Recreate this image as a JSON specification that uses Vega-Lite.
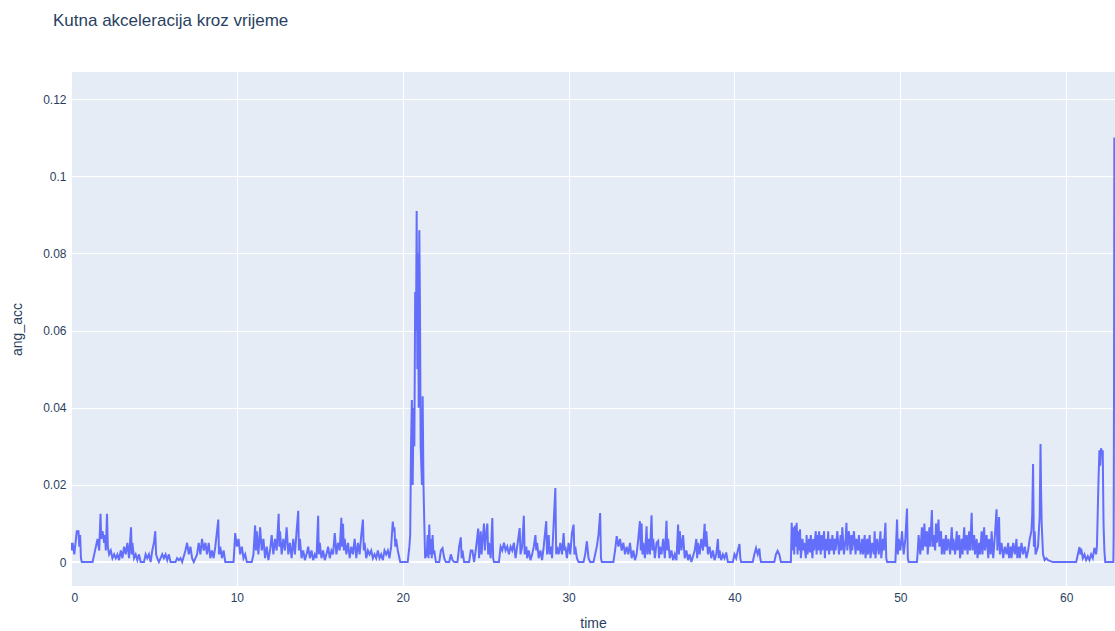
{
  "$schema": "https://vega.github.io/schema/vega-lite/v6.json",
  "width": 1044,
  "height": 514,
  "autosize": {"type": "none"},
  "padding": {"left": 71, "top": 72, "right": 0, "bottom": 45},
  "background": "white",
  "title": {
    "text": "Kutna akceleracija kroz vrijeme",
    "anchor": "start",
    "frame": "group",
    "baseline": "alphabetic",
    "offset": 29,
    "dx": -18,
    "font": "Liberation Sans",
    "fontSize": 17,
    "fontWeight": "normal",
    "color": "#2a3f5f"
  },
  "config": {
    "view": {"fill": "#E5ECF6", "stroke": null},
    "axis": {
      "domain": false,
      "ticks": false,
      "grid": true,
      "gridColor": "white",
      "gridWidth": 1,
      "labelColor": "#2a3f5f",
      "labelFont": "Liberation Sans",
      "labelFontSize": 12,
      "titleColor": "#2a3f5f",
      "titleFont": "Liberation Sans",
      "titleFontSize": 14,
      "titleFontWeight": "normal"
    }
  },
  "data": {
    "values": [
      {"time": 0, "ang_acc": 0.005}, {"time": 0.05, "ang_acc": 0.003}, {"time": 0.1, "ang_acc": 0.005}, {"time": 0.2, "ang_acc": 0.002},
      {"time": 0.3, "ang_acc": 0.006}, {"time": 0.35, "ang_acc": 0.008}, {"time": 0.45, "ang_acc": 0.008}, {"time": 0.5, "ang_acc": 0.004},
      {"time": 0.55, "ang_acc": 0.007}, {"time": 0.6, "ang_acc": 0.001}, {"time": 0.65, "ang_acc": 0}, {"time": 1.3, "ang_acc": 0},
      {"time": 1.4, "ang_acc": 0.002}, {"time": 1.5, "ang_acc": 0.004}, {"time": 1.6, "ang_acc": 0.006}, {"time": 1.7, "ang_acc": 0.003},
      {"time": 1.78, "ang_acc": 0.0125}, {"time": 1.82, "ang_acc": 0.006}, {"time": 1.9, "ang_acc": 0.008}, {"time": 2.0, "ang_acc": 0.005},
      {"time": 2.05, "ang_acc": 0.007}, {"time": 2.1, "ang_acc": 0.003}, {"time": 2.17, "ang_acc": 0.0125}, {"time": 2.22, "ang_acc": 0.004},
      {"time": 2.3, "ang_acc": 0.002}, {"time": 2.4, "ang_acc": 0.003}, {"time": 2.5, "ang_acc": 0.001}, {"time": 2.6, "ang_acc": 0.002},
      {"time": 2.7, "ang_acc": 0.001}, {"time": 2.8, "ang_acc": 0.002}, {"time": 2.9, "ang_acc": 0.0005}, {"time": 3.0, "ang_acc": 0.003},
      {"time": 3.1, "ang_acc": 0.001}, {"time": 3.2, "ang_acc": 0.004}, {"time": 3.3, "ang_acc": 0.002}, {"time": 3.4, "ang_acc": 0.005},
      {"time": 3.5, "ang_acc": 0.001}, {"time": 3.62, "ang_acc": 0.009}, {"time": 3.66, "ang_acc": 0.002}, {"time": 3.7, "ang_acc": 0.005},
      {"time": 3.8, "ang_acc": 0.001}, {"time": 3.9, "ang_acc": 0.002}, {"time": 4.0, "ang_acc": 0.0005}, {"time": 4.1, "ang_acc": 0.002},
      {"time": 4.2, "ang_acc": 0}, {"time": 4.4, "ang_acc": 0}, {"time": 4.5, "ang_acc": 0.002}, {"time": 4.6, "ang_acc": 0.001},
      {"time": 4.7, "ang_acc": 0.002}, {"time": 4.8, "ang_acc": 0}, {"time": 4.9, "ang_acc": 0.003}, {"time": 5.0, "ang_acc": 0.005},
      {"time": 5.08, "ang_acc": 0.008}, {"time": 5.13, "ang_acc": 0.002}, {"time": 5.2, "ang_acc": 0.001}, {"time": 5.3, "ang_acc": 0},
      {"time": 5.5, "ang_acc": 0.002}, {"time": 5.6, "ang_acc": 0.001}, {"time": 5.7, "ang_acc": 0.002}, {"time": 5.8, "ang_acc": 0.0005},
      {"time": 5.9, "ang_acc": 0.002}, {"time": 6.0, "ang_acc": 0}, {"time": 6.3, "ang_acc": 0}, {"time": 6.4, "ang_acc": 0.001},
      {"time": 6.5, "ang_acc": 0.0005}, {"time": 6.6, "ang_acc": 0.001}, {"time": 6.7, "ang_acc": 0}, {"time": 6.9, "ang_acc": 0.003},
      {"time": 7.0, "ang_acc": 0.005}, {"time": 7.1, "ang_acc": 0.002}, {"time": 7.2, "ang_acc": 0.004}, {"time": 7.3, "ang_acc": 0.001},
      {"time": 7.4, "ang_acc": 0}, {"time": 7.6, "ang_acc": 0.002}, {"time": 7.7, "ang_acc": 0.005}, {"time": 7.8, "ang_acc": 0.002},
      {"time": 7.9, "ang_acc": 0.006}, {"time": 8.0, "ang_acc": 0.003}, {"time": 8.1, "ang_acc": 0.005}, {"time": 8.2, "ang_acc": 0.002},
      {"time": 8.3, "ang_acc": 0.005}, {"time": 8.4, "ang_acc": 0.001}, {"time": 8.5, "ang_acc": 0.003}, {"time": 8.6, "ang_acc": 0.001},
      {"time": 8.7, "ang_acc": 0.004}, {"time": 8.88, "ang_acc": 0.011}, {"time": 8.92, "ang_acc": 0.002}, {"time": 9.0, "ang_acc": 0.004},
      {"time": 9.1, "ang_acc": 0.001}, {"time": 9.2, "ang_acc": 0.003}, {"time": 9.3, "ang_acc": 0}, {"time": 9.8, "ang_acc": 0},
      {"time": 9.9, "ang_acc": 0.0075}, {"time": 10.0, "ang_acc": 0.004}, {"time": 10.1, "ang_acc": 0.006}, {"time": 10.2, "ang_acc": 0.002},
      {"time": 10.3, "ang_acc": 0.004}, {"time": 10.4, "ang_acc": 0.001}, {"time": 10.5, "ang_acc": 0.002}, {"time": 10.6, "ang_acc": 0},
      {"time": 10.9, "ang_acc": 0}, {"time": 11.0, "ang_acc": 0.002}, {"time": 11.1, "ang_acc": 0.0095}, {"time": 11.15, "ang_acc": 0.003},
      {"time": 11.2, "ang_acc": 0.008}, {"time": 11.3, "ang_acc": 0.002}, {"time": 11.4, "ang_acc": 0.009}, {"time": 11.5, "ang_acc": 0.003},
      {"time": 11.6, "ang_acc": 0.006}, {"time": 11.7, "ang_acc": 0.001}, {"time": 11.8, "ang_acc": 0.004}, {"time": 11.9, "ang_acc": 0.0005},
      {"time": 12.0, "ang_acc": 0.003}, {"time": 12.1, "ang_acc": 0.007}, {"time": 12.2, "ang_acc": 0.002}, {"time": 12.3, "ang_acc": 0.006},
      {"time": 12.4, "ang_acc": 0.003}, {"time": 12.52, "ang_acc": 0.0125}, {"time": 12.56, "ang_acc": 0.004}, {"time": 12.6, "ang_acc": 0.008},
      {"time": 12.7, "ang_acc": 0.002}, {"time": 12.8, "ang_acc": 0.006}, {"time": 12.9, "ang_acc": 0.003}, {"time": 13.0, "ang_acc": 0.009},
      {"time": 13.1, "ang_acc": 0.002}, {"time": 13.2, "ang_acc": 0.005}, {"time": 13.3, "ang_acc": 0.001}, {"time": 13.4, "ang_acc": 0.006},
      {"time": 13.5, "ang_acc": 0.002}, {"time": 13.6, "ang_acc": 0.008}, {"time": 13.7, "ang_acc": 0.0133}, {"time": 13.74, "ang_acc": 0.003},
      {"time": 13.8, "ang_acc": 0.006}, {"time": 13.9, "ang_acc": 0.001}, {"time": 14.0, "ang_acc": 0.003}, {"time": 14.1, "ang_acc": 0.0005},
      {"time": 14.2, "ang_acc": 0.002}, {"time": 14.3, "ang_acc": 0.004}, {"time": 14.4, "ang_acc": 0.001}, {"time": 14.5, "ang_acc": 0.003},
      {"time": 14.6, "ang_acc": 0.0005}, {"time": 14.7, "ang_acc": 0.002}, {"time": 14.8, "ang_acc": 0.001}, {"time": 14.9, "ang_acc": 0.012},
      {"time": 14.94, "ang_acc": 0.002}, {"time": 15.0, "ang_acc": 0.005}, {"time": 15.1, "ang_acc": 0.001}, {"time": 15.2, "ang_acc": 0.003},
      {"time": 15.3, "ang_acc": 0.0005}, {"time": 15.4, "ang_acc": 0.002}, {"time": 15.5, "ang_acc": 0.004}, {"time": 15.6, "ang_acc": 0.001},
      {"time": 15.7, "ang_acc": 0.003}, {"time": 15.8, "ang_acc": 0.002}, {"time": 15.9, "ang_acc": 0.0075}, {"time": 16.0, "ang_acc": 0.002},
      {"time": 16.1, "ang_acc": 0.005}, {"time": 16.2, "ang_acc": 0.003}, {"time": 16.3, "ang_acc": 0.0115}, {"time": 16.34, "ang_acc": 0.004},
      {"time": 16.4, "ang_acc": 0.0099}, {"time": 16.45, "ang_acc": 0.003}, {"time": 16.5, "ang_acc": 0.006}, {"time": 16.6, "ang_acc": 0.002},
      {"time": 16.7, "ang_acc": 0.005}, {"time": 16.8, "ang_acc": 0.001}, {"time": 16.9, "ang_acc": 0.004}, {"time": 17.0, "ang_acc": 0.002},
      {"time": 17.1, "ang_acc": 0.006}, {"time": 17.2, "ang_acc": 0.001}, {"time": 17.3, "ang_acc": 0.005}, {"time": 17.4, "ang_acc": 0.002},
      {"time": 17.5, "ang_acc": 0.007}, {"time": 17.6, "ang_acc": 0.011}, {"time": 17.65, "ang_acc": 0.003}, {"time": 17.7, "ang_acc": 0.005},
      {"time": 17.8, "ang_acc": 0.001}, {"time": 17.9, "ang_acc": 0.003}, {"time": 18.0, "ang_acc": 0.002}, {"time": 18.1, "ang_acc": 0.003},
      {"time": 18.2, "ang_acc": 0.001}, {"time": 18.3, "ang_acc": 0.002}, {"time": 18.4, "ang_acc": 0.001}, {"time": 18.5, "ang_acc": 0.003},
      {"time": 18.6, "ang_acc": 0.001}, {"time": 18.7, "ang_acc": 0.002}, {"time": 18.8, "ang_acc": 0.0005}, {"time": 18.9, "ang_acc": 0.003},
      {"time": 19.0, "ang_acc": 0.002}, {"time": 19.1, "ang_acc": 0.003}, {"time": 19.2, "ang_acc": 0.001}, {"time": 19.3, "ang_acc": 0.004},
      {"time": 19.4, "ang_acc": 0.0105}, {"time": 19.45, "ang_acc": 0.008}, {"time": 19.5, "ang_acc": 0.009}, {"time": 19.55, "ang_acc": 0.004},
      {"time": 19.6, "ang_acc": 0.006}, {"time": 19.7, "ang_acc": 0.003}, {"time": 19.8, "ang_acc": 0.001}, {"time": 19.85, "ang_acc": 0},
      {"time": 20.3, "ang_acc": 0}, {"time": 20.4, "ang_acc": 0.004}, {"time": 20.45, "ang_acc": 0.007}, {"time": 20.5, "ang_acc": 0.03},
      {"time": 20.55, "ang_acc": 0.042}, {"time": 20.6, "ang_acc": 0.02}, {"time": 20.65, "ang_acc": 0.04}, {"time": 20.7, "ang_acc": 0.03},
      {"time": 20.75, "ang_acc": 0.07}, {"time": 20.8, "ang_acc": 0.06}, {"time": 20.84, "ang_acc": 0.091}, {"time": 20.88, "ang_acc": 0.05},
      {"time": 20.92, "ang_acc": 0.08}, {"time": 20.96, "ang_acc": 0.04}, {"time": 21.0, "ang_acc": 0.086}, {"time": 21.04, "ang_acc": 0.065},
      {"time": 21.08, "ang_acc": 0.03}, {"time": 21.12, "ang_acc": 0.025}, {"time": 21.16, "ang_acc": 0.02}, {"time": 21.2, "ang_acc": 0.043},
      {"time": 21.25, "ang_acc": 0.02}, {"time": 21.3, "ang_acc": 0.01}, {"time": 21.35, "ang_acc": 0.001}, {"time": 21.45, "ang_acc": 0.002},
      {"time": 21.5, "ang_acc": 0.007}, {"time": 21.55, "ang_acc": 0.001}, {"time": 21.6, "ang_acc": 0.0097}, {"time": 21.65, "ang_acc": 0.002},
      {"time": 21.7, "ang_acc": 0.006}, {"time": 21.75, "ang_acc": 0.001}, {"time": 21.8, "ang_acc": 0.007}, {"time": 21.85, "ang_acc": 0.002},
      {"time": 21.9, "ang_acc": 0.003}, {"time": 22.0, "ang_acc": 0}, {"time": 22.2, "ang_acc": 0}, {"time": 22.3, "ang_acc": 0.003},
      {"time": 22.4, "ang_acc": 0.0036}, {"time": 22.5, "ang_acc": 0.001}, {"time": 22.6, "ang_acc": 0}, {"time": 22.8, "ang_acc": 0},
      {"time": 22.9, "ang_acc": 0.002}, {"time": 23.0, "ang_acc": 0.0005}, {"time": 23.1, "ang_acc": 0}, {"time": 23.3, "ang_acc": 0},
      {"time": 23.4, "ang_acc": 0.004}, {"time": 23.5, "ang_acc": 0.0064}, {"time": 23.55, "ang_acc": 0.001}, {"time": 23.6, "ang_acc": 0.003},
      {"time": 23.7, "ang_acc": 0}, {"time": 24.0, "ang_acc": 0}, {"time": 24.1, "ang_acc": 0.003}, {"time": 24.2, "ang_acc": 0.003},
      {"time": 24.3, "ang_acc": 0}, {"time": 24.4, "ang_acc": 0.003}, {"time": 24.55, "ang_acc": 0.0087}, {"time": 24.6, "ang_acc": 0.001},
      {"time": 24.7, "ang_acc": 0.008}, {"time": 24.75, "ang_acc": 0.002}, {"time": 24.8, "ang_acc": 0.005}, {"time": 24.9, "ang_acc": 0.01},
      {"time": 24.95, "ang_acc": 0.003}, {"time": 25.0, "ang_acc": 0.006}, {"time": 25.1, "ang_acc": 0.01}, {"time": 25.15, "ang_acc": 0.002},
      {"time": 25.2, "ang_acc": 0.005}, {"time": 25.3, "ang_acc": 0.001}, {"time": 25.4, "ang_acc": 0.0114}, {"time": 25.45, "ang_acc": 0.001},
      {"time": 25.5, "ang_acc": 0}, {"time": 25.8, "ang_acc": 0}, {"time": 25.9, "ang_acc": 0.004}, {"time": 26.0, "ang_acc": 0.003},
      {"time": 26.1, "ang_acc": 0.005}, {"time": 26.2, "ang_acc": 0.003}, {"time": 26.3, "ang_acc": 0.004}, {"time": 26.4, "ang_acc": 0.002},
      {"time": 26.5, "ang_acc": 0.004}, {"time": 26.6, "ang_acc": 0.003}, {"time": 26.7, "ang_acc": 0.005}, {"time": 26.8, "ang_acc": 0.001},
      {"time": 26.9, "ang_acc": 0.004}, {"time": 27.05, "ang_acc": 0.0088}, {"time": 27.1, "ang_acc": 0.002}, {"time": 27.2, "ang_acc": 0.004},
      {"time": 27.3, "ang_acc": 0.012}, {"time": 27.35, "ang_acc": 0.002}, {"time": 27.45, "ang_acc": 0.004}, {"time": 27.5, "ang_acc": 0.001},
      {"time": 27.6, "ang_acc": 0.003}, {"time": 27.7, "ang_acc": 0.0005}, {"time": 27.8, "ang_acc": 0.002}, {"time": 27.9, "ang_acc": 0.004},
      {"time": 28.0, "ang_acc": 0.007}, {"time": 28.05, "ang_acc": 0.003}, {"time": 28.1, "ang_acc": 0.005}, {"time": 28.2, "ang_acc": 0.001},
      {"time": 28.3, "ang_acc": 0.003}, {"time": 28.4, "ang_acc": 0.0005}, {"time": 28.5, "ang_acc": 0.004}, {"time": 28.65, "ang_acc": 0.0106},
      {"time": 28.7, "ang_acc": 0.002}, {"time": 28.8, "ang_acc": 0.007}, {"time": 28.85, "ang_acc": 0.002}, {"time": 28.95, "ang_acc": 0.004},
      {"time": 29.0, "ang_acc": 0.001}, {"time": 29.2, "ang_acc": 0.0192}, {"time": 29.25, "ang_acc": 0.002}, {"time": 29.3, "ang_acc": 0.004},
      {"time": 29.4, "ang_acc": 0.002}, {"time": 29.5, "ang_acc": 0.005}, {"time": 29.6, "ang_acc": 0.002}, {"time": 29.7, "ang_acc": 0.0075},
      {"time": 29.75, "ang_acc": 0.003}, {"time": 29.8, "ang_acc": 0.004}, {"time": 29.9, "ang_acc": 0.001}, {"time": 30.0, "ang_acc": 0.005},
      {"time": 30.1, "ang_acc": 0.002}, {"time": 30.2, "ang_acc": 0.0075}, {"time": 30.3, "ang_acc": 0.0097}, {"time": 30.35, "ang_acc": 0.002},
      {"time": 30.4, "ang_acc": 0.004}, {"time": 30.5, "ang_acc": 0.001}, {"time": 30.6, "ang_acc": 0}, {"time": 30.9, "ang_acc": 0},
      {"time": 31.0, "ang_acc": 0.002}, {"time": 31.1, "ang_acc": 0.0054}, {"time": 31.2, "ang_acc": 0.001}, {"time": 31.3, "ang_acc": 0},
      {"time": 31.5, "ang_acc": 0}, {"time": 31.6, "ang_acc": 0.002}, {"time": 31.7, "ang_acc": 0.004}, {"time": 31.8, "ang_acc": 0.007},
      {"time": 31.9, "ang_acc": 0.0127}, {"time": 31.95, "ang_acc": 0.001}, {"time": 32.0, "ang_acc": 0}, {"time": 32.7, "ang_acc": 0},
      {"time": 32.8, "ang_acc": 0.003}, {"time": 32.9, "ang_acc": 0.0067}, {"time": 33.0, "ang_acc": 0.004}, {"time": 33.1, "ang_acc": 0.006},
      {"time": 33.2, "ang_acc": 0.003}, {"time": 33.3, "ang_acc": 0.005}, {"time": 33.4, "ang_acc": 0.002}, {"time": 33.5, "ang_acc": 0.004},
      {"time": 33.6, "ang_acc": 0.002}, {"time": 33.7, "ang_acc": 0.005}, {"time": 33.8, "ang_acc": 0.001}, {"time": 33.9, "ang_acc": 0.003},
      {"time": 34.0, "ang_acc": 0.0005}, {"time": 34.1, "ang_acc": 0.002}, {"time": 34.2, "ang_acc": 0.006}, {"time": 34.3, "ang_acc": 0.0106},
      {"time": 34.35, "ang_acc": 0.003}, {"time": 34.4, "ang_acc": 0.01}, {"time": 34.45, "ang_acc": 0.002}, {"time": 34.5, "ang_acc": 0.005},
      {"time": 34.6, "ang_acc": 0.001}, {"time": 34.7, "ang_acc": 0.0093}, {"time": 34.75, "ang_acc": 0.002}, {"time": 34.85, "ang_acc": 0.006},
      {"time": 34.9, "ang_acc": 0.002}, {"time": 35.0, "ang_acc": 0.0121}, {"time": 35.05, "ang_acc": 0.003}, {"time": 35.1, "ang_acc": 0.006},
      {"time": 35.2, "ang_acc": 0.001}, {"time": 35.3, "ang_acc": 0.005}, {"time": 35.4, "ang_acc": 0.0055}, {"time": 35.45, "ang_acc": 0.001},
      {"time": 35.5, "ang_acc": 0.004}, {"time": 35.6, "ang_acc": 0.002}, {"time": 35.7, "ang_acc": 0.006}, {"time": 35.8, "ang_acc": 0.001},
      {"time": 35.9, "ang_acc": 0.0107}, {"time": 35.95, "ang_acc": 0.003}, {"time": 36.0, "ang_acc": 0.006}, {"time": 36.1, "ang_acc": 0.001},
      {"time": 36.2, "ang_acc": 0.003}, {"time": 36.3, "ang_acc": 0.0005}, {"time": 36.4, "ang_acc": 0.002}, {"time": 36.5, "ang_acc": 0.0005},
      {"time": 36.6, "ang_acc": 0.0097}, {"time": 36.65, "ang_acc": 0.002}, {"time": 36.7, "ang_acc": 0.008}, {"time": 36.8, "ang_acc": 0.003},
      {"time": 36.9, "ang_acc": 0.007}, {"time": 37.0, "ang_acc": 0.001}, {"time": 37.1, "ang_acc": 0.003}, {"time": 37.2, "ang_acc": 0.0005},
      {"time": 37.3, "ang_acc": 0.002}, {"time": 37.4, "ang_acc": 0}, {"time": 37.6, "ang_acc": 0.003}, {"time": 37.7, "ang_acc": 0.006},
      {"time": 37.75, "ang_acc": 0.001}, {"time": 37.8, "ang_acc": 0.005}, {"time": 37.9, "ang_acc": 0.002}, {"time": 38.0, "ang_acc": 0.006},
      {"time": 38.1, "ang_acc": 0.003}, {"time": 38.2, "ang_acc": 0.0099}, {"time": 38.25, "ang_acc": 0.004}, {"time": 38.3, "ang_acc": 0.008},
      {"time": 38.4, "ang_acc": 0.002}, {"time": 38.5, "ang_acc": 0.004}, {"time": 38.6, "ang_acc": 0.001}, {"time": 38.7, "ang_acc": 0.003},
      {"time": 38.8, "ang_acc": 0.0005}, {"time": 38.9, "ang_acc": 0.002}, {"time": 39.0, "ang_acc": 0.006}, {"time": 39.05, "ang_acc": 0.001},
      {"time": 39.1, "ang_acc": 0.003}, {"time": 39.2, "ang_acc": 0.0005}, {"time": 39.3, "ang_acc": 0.002}, {"time": 39.4, "ang_acc": 0.001},
      {"time": 39.5, "ang_acc": 0.0025}, {"time": 39.6, "ang_acc": 0}, {"time": 39.9, "ang_acc": 0}, {"time": 40.0, "ang_acc": 0.002},
      {"time": 40.1, "ang_acc": 0.001}, {"time": 40.2, "ang_acc": 0.003}, {"time": 40.3, "ang_acc": 0.0047}, {"time": 40.35, "ang_acc": 0.001},
      {"time": 40.4, "ang_acc": 0}, {"time": 41.1, "ang_acc": 0}, {"time": 41.2, "ang_acc": 0.002}, {"time": 41.3, "ang_acc": 0.0036},
      {"time": 41.4, "ang_acc": 0.002}, {"time": 41.5, "ang_acc": 0.0035}, {"time": 41.55, "ang_acc": 0.001}, {"time": 41.6, "ang_acc": 0},
      {"time": 42.4, "ang_acc": 0}, {"time": 42.5, "ang_acc": 0.002}, {"time": 42.6, "ang_acc": 0.0029}, {"time": 42.7, "ang_acc": 0.002},
      {"time": 42.8, "ang_acc": 0}, {"time": 43.4, "ang_acc": 0}, {"time": 43.45, "ang_acc": 0.0102}, {"time": 43.5, "ang_acc": 0.003},
      {"time": 43.55, "ang_acc": 0.009}, {"time": 43.6, "ang_acc": 0.002}, {"time": 43.65, "ang_acc": 0.0095}, {"time": 43.7, "ang_acc": 0.004},
      {"time": 43.75, "ang_acc": 0.0102}, {"time": 43.8, "ang_acc": 0.002}, {"time": 43.85, "ang_acc": 0.008}, {"time": 43.9, "ang_acc": 0.003},
      {"time": 43.95, "ang_acc": 0.0085}, {"time": 44.0, "ang_acc": 0.001}, {"time": 44.1, "ang_acc": 0.006}, {"time": 44.15, "ang_acc": 0.003},
      {"time": 44.2, "ang_acc": 0.005}, {"time": 44.3, "ang_acc": 0.001}, {"time": 44.35, "ang_acc": 0.007}, {"time": 44.4, "ang_acc": 0.002},
      {"time": 44.5, "ang_acc": 0.006}, {"time": 44.55, "ang_acc": 0.0025}, {"time": 44.6, "ang_acc": 0.007}, {"time": 44.7, "ang_acc": 0.001},
      {"time": 44.75, "ang_acc": 0.006}, {"time": 44.8, "ang_acc": 0.003}, {"time": 44.9, "ang_acc": 0.008}, {"time": 44.95, "ang_acc": 0.002},
      {"time": 45.0, "ang_acc": 0.007}, {"time": 45.05, "ang_acc": 0.003}, {"time": 45.1, "ang_acc": 0.008}, {"time": 45.2, "ang_acc": 0.002},
      {"time": 45.25, "ang_acc": 0.007}, {"time": 45.3, "ang_acc": 0.003}, {"time": 45.4, "ang_acc": 0.008}, {"time": 45.45, "ang_acc": 0.001},
      {"time": 45.5, "ang_acc": 0.006}, {"time": 45.6, "ang_acc": 0.003}, {"time": 45.65, "ang_acc": 0.008}, {"time": 45.7, "ang_acc": 0.002},
      {"time": 45.8, "ang_acc": 0.006}, {"time": 45.85, "ang_acc": 0.003}, {"time": 45.9, "ang_acc": 0.007}, {"time": 46.0, "ang_acc": 0.002},
      {"time": 46.05, "ang_acc": 0.006}, {"time": 46.1, "ang_acc": 0.003}, {"time": 46.2, "ang_acc": 0.008}, {"time": 46.3, "ang_acc": 0.002},
      {"time": 46.4, "ang_acc": 0.007}, {"time": 46.45, "ang_acc": 0.003}, {"time": 46.5, "ang_acc": 0.009}, {"time": 46.6, "ang_acc": 0.002},
      {"time": 46.7, "ang_acc": 0.006}, {"time": 46.75, "ang_acc": 0.0102}, {"time": 46.8, "ang_acc": 0.003}, {"time": 46.9, "ang_acc": 0.008},
      {"time": 47.0, "ang_acc": 0.002}, {"time": 47.05, "ang_acc": 0.007}, {"time": 47.1, "ang_acc": 0.003}, {"time": 47.2, "ang_acc": 0.008},
      {"time": 47.3, "ang_acc": 0.002}, {"time": 47.35, "ang_acc": 0.006}, {"time": 47.45, "ang_acc": 0.003}, {"time": 47.5, "ang_acc": 0.007},
      {"time": 47.6, "ang_acc": 0.002}, {"time": 47.7, "ang_acc": 0.006}, {"time": 47.75, "ang_acc": 0.002}, {"time": 47.85, "ang_acc": 0.007},
      {"time": 47.9, "ang_acc": 0.001}, {"time": 48.0, "ang_acc": 0.006}, {"time": 48.05, "ang_acc": 0.002}, {"time": 48.15, "ang_acc": 0.007},
      {"time": 48.2, "ang_acc": 0.001}, {"time": 48.3, "ang_acc": 0.005}, {"time": 48.4, "ang_acc": 0.002}, {"time": 48.45, "ang_acc": 0.008},
      {"time": 48.5, "ang_acc": 0.001}, {"time": 48.6, "ang_acc": 0.006}, {"time": 48.7, "ang_acc": 0.002}, {"time": 48.8, "ang_acc": 0.008},
      {"time": 48.85, "ang_acc": 0.001}, {"time": 48.95, "ang_acc": 0.006}, {"time": 49.0, "ang_acc": 0.003}, {"time": 49.1, "ang_acc": 0.0102},
      {"time": 49.15, "ang_acc": 0.001}, {"time": 49.2, "ang_acc": 0}, {"time": 49.7, "ang_acc": 0}, {"time": 49.8, "ang_acc": 0.011},
      {"time": 49.85, "ang_acc": 0.002}, {"time": 49.9, "ang_acc": 0.006}, {"time": 50.0, "ang_acc": 0.003}, {"time": 50.1, "ang_acc": 0.008},
      {"time": 50.2, "ang_acc": 0.002}, {"time": 50.3, "ang_acc": 0.006}, {"time": 50.4, "ang_acc": 0.0139}, {"time": 50.45, "ang_acc": 0.001},
      {"time": 50.5, "ang_acc": 0}, {"time": 51.0, "ang_acc": 0}, {"time": 51.05, "ang_acc": 0.003}, {"time": 51.1, "ang_acc": 0.007},
      {"time": 51.2, "ang_acc": 0.002}, {"time": 51.3, "ang_acc": 0.009}, {"time": 51.35, "ang_acc": 0.003}, {"time": 51.45, "ang_acc": 0.01},
      {"time": 51.5, "ang_acc": 0.004}, {"time": 51.6, "ang_acc": 0.008}, {"time": 51.65, "ang_acc": 0.002}, {"time": 51.75, "ang_acc": 0.009},
      {"time": 51.8, "ang_acc": 0.004}, {"time": 51.9, "ang_acc": 0.0135}, {"time": 51.95, "ang_acc": 0.004}, {"time": 52.0, "ang_acc": 0.007},
      {"time": 52.1, "ang_acc": 0.003}, {"time": 52.15, "ang_acc": 0.01}, {"time": 52.2, "ang_acc": 0.005}, {"time": 52.3, "ang_acc": 0.011},
      {"time": 52.35, "ang_acc": 0.004}, {"time": 52.45, "ang_acc": 0.008}, {"time": 52.5, "ang_acc": 0.002}, {"time": 52.6, "ang_acc": 0.006},
      {"time": 52.65, "ang_acc": 0.002}, {"time": 52.75, "ang_acc": 0.007}, {"time": 52.8, "ang_acc": 0.003}, {"time": 52.9, "ang_acc": 0.006},
      {"time": 53.0, "ang_acc": 0.002}, {"time": 53.1, "ang_acc": 0.009}, {"time": 53.15, "ang_acc": 0.003}, {"time": 53.2, "ang_acc": 0.006},
      {"time": 53.3, "ang_acc": 0.002}, {"time": 53.4, "ang_acc": 0.008}, {"time": 53.45, "ang_acc": 0.003}, {"time": 53.55, "ang_acc": 0.007},
      {"time": 53.6, "ang_acc": 0.001}, {"time": 53.7, "ang_acc": 0.006}, {"time": 53.75, "ang_acc": 0.002}, {"time": 53.85, "ang_acc": 0.009},
      {"time": 53.9, "ang_acc": 0.003}, {"time": 54.0, "ang_acc": 0.007}, {"time": 54.05, "ang_acc": 0.002}, {"time": 54.15, "ang_acc": 0.008},
      {"time": 54.2, "ang_acc": 0.003}, {"time": 54.3, "ang_acc": 0.0128}, {"time": 54.35, "ang_acc": 0.003}, {"time": 54.45, "ang_acc": 0.007},
      {"time": 54.5, "ang_acc": 0.002}, {"time": 54.6, "ang_acc": 0.006}, {"time": 54.65, "ang_acc": 0.001}, {"time": 54.75, "ang_acc": 0.005},
      {"time": 54.8, "ang_acc": 0.002}, {"time": 54.9, "ang_acc": 0.008}, {"time": 54.95, "ang_acc": 0.002}, {"time": 55.05, "ang_acc": 0.009},
      {"time": 55.1, "ang_acc": 0.003}, {"time": 55.2, "ang_acc": 0.007}, {"time": 55.3, "ang_acc": 0.001}, {"time": 55.35, "ang_acc": 0.006},
      {"time": 55.45, "ang_acc": 0.002}, {"time": 55.5, "ang_acc": 0.008}, {"time": 55.6, "ang_acc": 0.001}, {"time": 55.7, "ang_acc": 0.007},
      {"time": 55.8, "ang_acc": 0.0137}, {"time": 55.85, "ang_acc": 0.003}, {"time": 55.95, "ang_acc": 0.0117}, {"time": 56.0, "ang_acc": 0.002},
      {"time": 56.1, "ang_acc": 0.005}, {"time": 56.2, "ang_acc": 0.001}, {"time": 56.3, "ang_acc": 0.004}, {"time": 56.4, "ang_acc": 0.002},
      {"time": 56.5, "ang_acc": 0.005}, {"time": 56.55, "ang_acc": 0.001}, {"time": 56.65, "ang_acc": 0.004}, {"time": 56.7, "ang_acc": 0.001},
      {"time": 56.8, "ang_acc": 0.005}, {"time": 56.9, "ang_acc": 0.002}, {"time": 57.0, "ang_acc": 0.006}, {"time": 57.05, "ang_acc": 0.001},
      {"time": 57.15, "ang_acc": 0.004}, {"time": 57.2, "ang_acc": 0.001}, {"time": 57.3, "ang_acc": 0.005}, {"time": 57.4, "ang_acc": 0.002},
      {"time": 57.5, "ang_acc": 0.004}, {"time": 57.6, "ang_acc": 0.001}, {"time": 57.7, "ang_acc": 0.003}, {"time": 57.8, "ang_acc": 0.006},
      {"time": 57.9, "ang_acc": 0.008}, {"time": 57.95, "ang_acc": 0.012}, {"time": 58.0, "ang_acc": 0.0254}, {"time": 58.05, "ang_acc": 0.004},
      {"time": 58.1, "ang_acc": 0.008}, {"time": 58.15, "ang_acc": 0.002}, {"time": 58.3, "ang_acc": 0.004}, {"time": 58.4, "ang_acc": 0.012},
      {"time": 58.45, "ang_acc": 0.0306}, {"time": 58.48, "ang_acc": 0.0193}, {"time": 58.52, "ang_acc": 0.01}, {"time": 58.6, "ang_acc": 0.002},
      {"time": 58.7, "ang_acc": 0.0005}, {"time": 58.8, "ang_acc": 0.001}, {"time": 58.9, "ang_acc": 0.0005}, {"time": 59.2, "ang_acc": 0},
      {"time": 60.6, "ang_acc": 0}, {"time": 60.7, "ang_acc": 0.002}, {"time": 60.8, "ang_acc": 0.0039}, {"time": 60.85, "ang_acc": 0.002},
      {"time": 60.9, "ang_acc": 0.0035}, {"time": 61.0, "ang_acc": 0.001}, {"time": 61.1, "ang_acc": 0.002}, {"time": 61.2, "ang_acc": 0.0005},
      {"time": 61.3, "ang_acc": 0.0015}, {"time": 61.4, "ang_acc": 0.0005}, {"time": 61.5, "ang_acc": 0.002}, {"time": 61.6, "ang_acc": 0.001},
      {"time": 61.7, "ang_acc": 0.0037}, {"time": 61.8, "ang_acc": 0.002}, {"time": 61.85, "ang_acc": 0.004}, {"time": 61.95, "ang_acc": 0.022},
      {"time": 62.0, "ang_acc": 0.029}, {"time": 62.05, "ang_acc": 0.025}, {"time": 62.1, "ang_acc": 0.0295}, {"time": 62.15, "ang_acc": 0.028},
      {"time": 62.2, "ang_acc": 0.029}, {"time": 62.25, "ang_acc": 0.0097}, {"time": 62.3, "ang_acc": 0.003}, {"time": 62.35, "ang_acc": 0},
      {"time": 62.84, "ang_acc": 0}, {"time": 62.86, "ang_acc": 0.0067}, {"time": 62.88, "ang_acc": 0.0427}, {"time": 62.9, "ang_acc": 0.11},
      {"time": 63.0, "ang_acc": 0.06}
    ]
  },
  "layer": [
    {
      "mark": {"type": "rule", "color": "white", "strokeWidth": 2},
      "encoding": {"y": {"datum": 0, "type": "quantitative"}}
    },
    {
      "mark": {"type": "line", "color": "#636efa", "strokeWidth": 2, "clip": true},
      "encoding": {
        "x": {
          "field": "time",
          "type": "quantitative",
          "title": "time",
          "scale": {"domain": [0, 62.94], "nice": false, "zero": false},
          "axis": {"values": [0, 10, 20, 30, 40, 50, 60], "labelPadding": 6, "titlePadding": 13}
        },
        "y": {
          "field": "ang_acc",
          "type": "quantitative",
          "title": "ang_acc",
          "scale": {"domain": [-0.0062, 0.127], "nice": false, "zero": false},
          "axis": {"values": [0, 0.02, 0.04, 0.06, 0.08, 0.1, 0.12], "format": "~g", "labelPadding": 5, "titlePadding": 18}
        }
      }
    }
  ]
}
